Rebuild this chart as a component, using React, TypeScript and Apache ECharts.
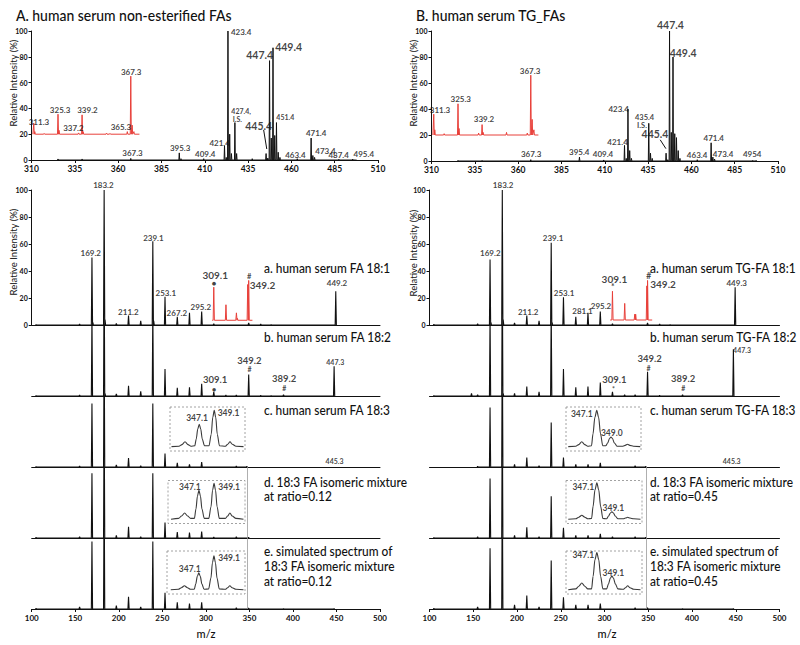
import React, { useEffect, useRef } from "react";
import * as echarts from "echarts";

// ---------------- DATA ----------------
// Top panels (m/z, relative intensity %)
const TOP_A_BLACK = [[325.3,0.8],[339.2,0.8],[367.3,1.2],[395.3,5.5],[396.3,1],[409.4,1],[421.4,11],[422.4,2],[423.4,100],[424.4,20],[425.4,5],[427.4,29],[428.4,5],[437.4,1],[445.4,5],[446.4,1.5],[447.4,77],[448.4,17],[449.4,87],[450.4,19],[451.4,29],[452.4,6],[453.4,2],[463.4,1],[471.4,17],[472.4,3.5],[473.4,2],[487.4,0.6],[495.4,0.7],[497.4,0.4]];
const TOP_A_RED = [[311.3,28.5],[311.9,22],[317.3,20.6],[325.3,35.5],[325.9,23],[337.2,21],[339.2,35],[339.8,22],[353.3,20.8],[355.3,20.6],[365.3,22],[367.3,65],[368.1,27],[369.1,22]];
const TOP_B_BLACK = [[325.3,0.5],[339.2,0.5],[367.3,1],[395.4,3],[409.4,0.8],[421.4,12],[422.4,2],[423.4,40],[424.4,8],[425.4,2],[435.4,29],[436.4,6],[437.4,2],[445.4,6],[446.4,1],[447.4,100],[448.4,22],[449.4,80],[450.4,21],[451.4,18],[452.4,8],[453.4,2],[463.4,1],[471.4,14],[472.4,3],[473.4,1.5],[495.4,0.5],[497.4,0.5]];
const TOP_B_RED = [[311.3,36],[311.9,24],[317.3,21],[325.3,44],[325.9,25],[337.2,21.5],[339.2,28],[339.8,22],[353.3,22],[365.3,21.5],[367.3,66],[368.1,32],[369.1,24]];
const RED_BASE_TOP = 20;
const TOP_A_RED_RANGE = [310.8, 372.3];
const TOP_B_RED_RANGE = [310.8, 371.7];

// Bottom panels (MS/MS spectra)
const L_A = [[105,0.3],[155,0.8],[169.2,50],[170.2,2],[183.2,100],[184.2,4],[197.2,1.2],[211.2,7],[225.2,3],[239.1,62],[240.1,3],[253.1,21],[267.2,6],[281.2,9],[295.2,10],[309.1,1],[349.2,1.5],[363,0.8],[375,0.3],[449.2,25]];
const L_A_RED = [[309.1,28],[323.1,15],[335.1,9],[336.1,5],[348.1,30],[349.2,33]];
const L_B = [[105,0.3],[155,0.8],[169.2,60],[183.2,100],[184.2,2],[197.2,1.5],[211.2,7.6],[225.2,3.5],[239.1,65],[253.1,20],[267.2,6],[281.2,6.5],[295.2,9],[309.1,3],[323,0.6],[335,0.8],[349.2,16],[363,0.5],[375,0.3],[389.2,1],[447.3,22]];
const L_C = [[105,0.3],[155,0.8],[169.2,47],[183.2,100],[197.2,1.5],[211.2,6.6],[225.2,1],[239.1,47],[253.1,10],[267.2,3],[281.2,2],[295.2,3.7],[335,0.8],[347.1,0.4]];
const L_D = [[105,0.5],[155,1],[169.2,48],[183.2,100],[197.2,2],[211.2,8.4],[225.2,1],[239.1,48],[253.1,11.4],[267.2,4.4],[281.2,4],[295.2,4.8],[309.1,0.8],[335,1],[349.1,0.5]];
const L_E = [[105,0.5],[155,1.5],[169.2,50],[183.2,100],[197.2,2.5],[211.2,9],[225.2,1.5],[239.1,50],[253.1,12],[267.2,5],[281.2,4],[295.2,5],[335,1],[349.1,0.6],[389.2,0.3],[447.3,0.3]];
const R_A = [[105,0.5],[155,1],[169.2,48.6],[170.2,2],[183.2,100],[184.2,4],[197.2,1.5],[211.2,7],[225.2,3],[239.1,61],[240.1,2],[253.1,20.5],[267.2,6],[281.1,9],[295.2,10],[309.1,1],[349.2,1.5],[363,0.8],[375,0.3],[449.3,28]];
const R_A_RED = [[309.1,25],[323.1,16],[334.6,8],[335.6,8],[348.4,29],[349.2,33]];
const R_B = [[105,0.3],[148,2],[155,1],[169.2,60],[183.2,100],[184.2,2],[197.2,2],[211.2,7],[225.2,3],[239.1,65],[253.1,20],[267.2,6.5],[281.1,7],[295.2,10],[309.1,3],[323,1],[335,1],[349.2,18],[363,0.5],[389.2,1],[447.3,34.6]];
const R_C = [[155,0.5],[169.2,44],[183.2,100],[197.2,2],[211.2,7],[225.2,1],[239.1,33],[253.1,7],[267.2,2],[281.2,2],[295.2,3],[335,1],[347.1,0.5]];
const R_D = [[105,0.3],[155,1],[169.2,44],[183.2,100],[197.2,2],[211.2,8],[225.2,1],[239.1,31],[253.1,7.6],[267.2,2],[281.2,2],[295.2,3],[309.1,1],[335,1],[347.1,0.5]];
const R_E = [[105,0.5],[155,1.5],[169.2,45],[183.2,100],[197.2,3],[211.2,10],[225.2,1.5],[239.1,36],[253.1,8.6],[267.2,3],[281.2,3],[295.2,4],[335,1],[349.1,1],[389.2,0.3],[447.3,0.3]];
const BOT_RED_BASE_L = 3.5;
const BOT_RED_BASE_R = 3.7;
const L_A_RED_RANGE = [307.3, 353.5];
const R_A_RED_RANGE = [306.5, 354.5];
const ISOMER_LINE_MZ = 347.5;

// Inset zoom profiles (m/z, relative height), read point by point
const INSET_LC = [[343.4,1],[344.4,2],[344.8,6],[345.2,13],[345.6,6],[346.0,2],[346.5,3],[346.7,20],[346.9,45],[347.1,57],[347.3,45],[347.5,20],[347.8,3],[348.4,3],[348.7,32],[348.9,74],[349.1,92],[349.3,74],[349.5,32],[349.8,3],[350.6,2],[350.9,7],[351.2,13],[351.5,7],[352.0,2],[353,1]];
const INSET_LD = [[343.4,1],[344.4,3],[344.8,9],[345.2,17],[345.6,9],[346.0,3],[346.5,3],[346.7,27],[346.9,60],[347.1,75],[347.3,60],[347.5,27],[347.8,3],[348.4,3],[348.7,33],[348.9,75],[349.1,93],[349.3,75],[349.5,33],[349.8,3],[350.6,3],[350.9,9],[351.2,17],[351.5,9],[352.0,3],[353,1]];
const INSET_LE = [[343.4,1],[344.4,2],[344.8,6],[345.2,11],[345.6,6],[346.0,2],[346.5,2],[346.7,16],[346.9,35],[347.1,44],[347.3,35],[347.5,16],[347.8,2],[348.4,3],[348.7,31],[348.9,70],[349.1,88],[349.3,70],[349.5,31],[349.8,3],[350.6,2],[350.9,6],[351.2,11],[351.5,6],[352.0,2],[353,1]];
const INSET_RC = [[343.3,1],[344.3,2],[344.7,6],[345.1,13],[345.5,6],[345.9,2],[346.4,3],[346.6,33],[346.85,74],[347.1,92],[347.35,74],[347.6,33],[347.9,3],[348.3,3],[348.55,10],[348.8,21],[349.0,25],[349.2,21],[349.45,10],[349.8,2],[350.6,2],[350.9,4],[351.2,7],[351.5,4],[352.0,2],[352.9,1]];
const INSET_RD = [[343.3,1],[344.3,2],[344.7,6],[345.1,11],[345.5,6],[345.9,2],[346.4,3],[346.6,34],[346.85,76],[347.1,94],[347.35,76],[347.6,34],[347.9,3],[348.4,2],[348.65,9],[348.9,17],[349.1,20],[349.3,17],[349.55,9],[349.9,2],[350.6,2],[350.9,4],[351.2,6],[351.5,4],[352.0,2],[352.9,1]];
const INSET_RE = [[343.3,1],[344.3,3],[344.7,10],[345.1,18],[345.5,10],[345.9,3],[346.4,3],[346.6,35],[346.85,78],[347.1,96],[347.35,78],[347.6,35],[347.9,3],[348.4,3],[348.65,16],[348.9,31],[349.1,36],[349.3,31],[349.55,16],[349.9,3],[350.6,2],[350.9,6],[351.2,11],[351.5,6],[352.0,2],[352.9,1]];

// Peak annotation texts: [m/z anchor, intensity anchor, text]
const LAB_TA = [[314.3,29.7,"311.3"],[326.5,39,"325.3"],[334.2,24.5,"337.2"],[342.3,39,"339.2"],[361.6,25.8,"365.3"],[367.5,68.5,"367.3"],[368.3,5.2,"367.3"],[395.8,9,"395.3"],[410.3,4.4,"409.4"],[418.6,13.4,"421.4"],[431,99.5,"423.4"],[462.3,3.9,"463.4"],[474.3,21.2,"471.4"],[479.7,7.2,"473.4"],[487.3,3.9,"487.4"],[501.8,4.6,"495.4"]];
const LAB_TA_SMALL = [[456.5,33,"451.4"],[431,38,"427.4,"],[428.8,32,"I.S."]];
const LAB_TA_BIG = [[441.1,26.4,"445.4"],[441.7,81.4,"447.4"],[458.4,87.4,"449.4"]];
const LAB_TB = [[314.9,39.2,"311.3"],[326.9,47.5,"325.3"],[340.3,32,"339.2"],[366.9,69.5,"367.3"],[367.5,5.1,"367.3"],[395.3,7.2,"395.4"],[409,5.1,"409.4"],[417.4,14.9,"421.4"],[418,39.7,"423.4"],[463.3,4.6,"463.4"],[472.9,17.9,"471.4"],[478.3,5.1,"473.4"],[495.1,5.1,"4954"]];
const LAB_TB_SMALL = [[433,33.3,"435.4"],[431.5,27.0,"I.S."]];
const LAB_TB_BIG = [[439.0,20.8,"445.4"],[447.9,104.6,"447.4"],[455.2,82.8,"449.4"]];
const ARROW_TA = [[444.0,23.3],[445.8,8.5]];
const ARROW_TB = [[442.0,16.3],[445.3,9.5]];

const LAB_LA = [[182.3,103.7,"183.2"],[167.8,53.6,"169.2"],[239.8,64.7,"239.1"],[211,9.4,"211.2"],[254,24,"253.1"],[266.7,8.6,"267.2"],[294.2,13.6,"295.2"],[450.6,30.9,"449.2"]];
const LAB_LA_BIG = [[310.7,37,"309.1"],[365,29.6,"349.2"]];
const MARK_LA = [[309.5,30.4,"●"],[349.8,35.8,"#"]];
const LAB_LB_BIG = [[350.1,26.6,"349.2"],[310.7,12.3,"309.1"],[390,12.6,"389.2"]];
const LAB_LB_SMALL = [[448.6,24.9,"447.3"]];
const MARK_LB = [[350.1,19.8,"#"],[309.5,5.5,"●"],[390,5.6,"#"]];
const LAB_LC_SMALL = [[447.8,4.4,"445.3"]];

const LAB_RA = [[184.1,103.7,"183.2"],[169.5,53,"169.2"],[241.2,64.2,"239.1"],[212.8,9.9,"211.2"],[253.8,24,"253.1"],[274.9,10.6,"281.1"],[296,14,"295.2"],[451.1,31.3,"449.3"]];
const LAB_RA_BIG = [[311.3,34.3,"309.1"],[366.9,30.4,"349.2"]];
const MARK_RA = [[309.4,28.0,"*"],[350.4,36.3,"#"]];
const LAB_RB_BIG = [[351.5,28.0,"349.2"],[311.3,12.3,"309.1"],[389.9,12.6,"389.2"]];
const LAB_RB_SMALL = [[457.2,34,"447.3"]];
const MARK_RB = [[350.4,21.0,"#"],[310.2,5.5,"*"],[389.9,5.6,"#"]];
const LAB_RC_SMALL = [[445.4,4.4,"445.3"]];

const LAB_INSET_LC = [[346.8,72.5,"347.1"],[351.0,85,"349.1"]];
const LAB_INSET_LD = [[345.9,84,"347.1"],[351.1,84,"349.1"]];
const LAB_INSET_LE = [[345.9,53,"347.1"],[351.1,83,"349.1"]];
const LAB_INSET_RC = [[345.1,82,"347.1"],[349.1,34,"349.0"]];
const LAB_INSET_RD = [[345.3,84,"347.1"],[349.3,29,"349.1"]];
const LAB_INSET_RE = [[345.3,90,"347.1"],[349.3,43,"349.1"]];

const TITLES = ["A. human serum non-esterified FAs", "B. human serum TG_FAs"];
const LEFT_DESC = [["a. human serum FA 18:1"],["b. human serum FA 18:2"],["c. human serum FA 18:3"],["d. 18:3 FA isomeric mixture","at ratio=0.12"],["e. simulated spectrum of","18:3 FA isomeric mixture","at ratio=0.12"]];
const RIGHT_DESC = [["a. human serum TG-FA 18:1"],["b. human serum TG-FA 18:2"],["c. human serum TG-FA 18:3"],["d. 18:3 FA isomeric mixture","at ratio=0.45"],["e. simulated spectrum of","18:3 FA isomeric mixture","at ratio=0.45"]];
const Y_NAME = "Relative Intensity (%)";
const X_NAME = "m/z";

// ---------------- LAYOUT ----------------
const FONT = "Lato, 'Open Sans', sans-serif";
const BLACK = "#111";
const RED = "#e8403a";
const TOP_GRIDS = [
  { left: 31.5, top: 31, width: 346.5, height: 129 },
  { left: 431.5, top: 31, width: 346.5, height: 130 },
];
const BOT_LEFT_X = [31.7, 429.5];
const BOT_W = [348.3, 350];
const BOT_TOPS = [190, 325, 396, 467, 538];
const BOT_H = [135, 71, 71, 71, 71];
const SUB_MAX = 71 / 1.35;
const INSETS = [
  { left: 170, top: 407, width: 75, height: 44, min: 343.2, max: 353.2 },
  { left: 168, top: 480.5, width: 77, height: 43, min: 343.0, max: 353.2 },
  { left: 167, top: 551, width: 78, height: 43, min: 342.9, max: 353.2 },
  { left: 566, top: 407, width: 75, height: 44, min: 343.0, max: 353.0 },
  { left: 566, top: 480.5, width: 76, height: 43, min: 343.0, max: 353.1 },
  { left: 566, top: 551, width: 76, height: 43, min: 343.0, max: 353.1 },
];
const DESC_SCALE = 0.85;
const TITLE_SCALE = 0.9;

function sticks(peaks: number[][], w: number, base = 0, range?: number[]) {
  const sorted = [...peaks].sort((a, b) => a[0] - b[0]);
  const out: number[][] = [];
  if (range) out.push([range[0], base]);
  for (const [m, h] of sorted) {
    out.push([m - w, base], [m, h], [m + w, base]);
  }
  if (range) out.push([range[1], base]);
  return out;
}

function buildOption() {
  const grid: any[] = [];
  const xAxis: any[] = [];
  const yAxis: any[] = [];
  const series: any[] = [];

  const tickLabel = (size: number) => ({ fontSize: size, fontWeight: "bold", color: BLACK, fontFamily: FONT });

  TOP_GRIDS.forEach((g) => {
    grid.push({ ...g });
    xAxis.push({
      type: "value", gridIndex: grid.length - 1, min: 310, max: 510, interval: 25,
      axisLine: { lineStyle: { color: BLACK, width: 1 } },
      axisTick: { length: 3, lineStyle: { color: BLACK } },
      axisLabel: { ...tickLabel(8.5), margin: 4 },
      splitLine: { show: false },
    });
    yAxis.push({
      type: "value", gridIndex: grid.length - 1, min: 0, max: 100, interval: 20,
      axisLine: { show: true, lineStyle: { color: BLACK, width: 1 } },
      axisTick: { show: true, length: 3, lineStyle: { color: BLACK } },
      axisLabel: { ...tickLabel(7), margin: 4 },
      splitLine: { show: false },
    });
  });

  for (let side = 0; side < 2; side++) {
    for (let p = 0; p < 5; p++) {
      grid.push({ left: BOT_LEFT_X[side], top: BOT_TOPS[p], width: BOT_W[side], height: BOT_H[p] });
      const gi = grid.length - 1;
      const isLast = p === 4;
      xAxis.push({
        type: "value", gridIndex: gi, min: 100, max: 500, interval: 50,
        axisLine: { show: true, lineStyle: { color: BLACK, width: 1 } },
        axisTick: { show: isLast, length: 3, lineStyle: { color: BLACK } },
        axisLabel: isLast ? { ...tickLabel(8), margin: 5 } : { show: false },
        splitLine: { show: false },
      });
      yAxis.push(p === 0 ? {
        type: "value", gridIndex: gi, min: 0, max: 100, interval: 20,
        axisLine: { show: true, lineStyle: { color: BLACK, width: 1 } },
        axisTick: { show: true, length: 3, lineStyle: { color: BLACK } },
        axisLabel: { ...tickLabel(7), margin: 4 },
        splitLine: { show: false },
      } : { type: "value", gridIndex: gi, min: 0, max: SUB_MAX, show: false });
    }
  }

  INSETS.forEach((g) => {
    grid.push({ left: g.left, top: g.top, width: g.width, height: g.height });
    const gi = grid.length - 1;
    xAxis.push({ type: "value", gridIndex: gi, min: g.min, max: g.max, show: false });
    yAxis.push({ type: "value", gridIndex: gi, min: -10, max: 100, show: false });
  });

  const line = (gi: number, data: number[][], color = BLACK, width = 1, extra: any = {}) => ({
    type: "line", xAxisIndex: gi, yAxisIndex: gi, data, symbol: "none", showSymbol: false,
    lineStyle: { color, width }, silent: true, clip: true, z: 3, ...extra,
  });

  const labels = (gi: number, arr: any[], size: number, weight: any = "bold", color = BLACK) => ({
    type: "scatter", xAxisIndex: gi, yAxisIndex: gi, symbolSize: 1, clip: false, silent: true, z: 6,
    itemStyle: { color: "rgba(0,0,0,0)" },
    data: arr.map((d) => ({ value: [d[0], d[1]], name: d[2] })),
    label: { show: true, position: "inside", formatter: (p: any) => p.name, fontSize: size, fontWeight: weight, color, fontFamily: FONT },
  });

  const arrowLine = (pts: number[][]) => ({
    silent: true, symbol: ["none", "arrow"], symbolSize: [0, 6], label: { show: false },
    lineStyle: { color: BLACK, width: 1, type: "solid" },
    data: [[{ coord: pts[0] }, { coord: pts[1] }]],
  });

  series.push(line(0, sticks(TOP_A_BLACK, 0.25), BLACK, 1, { markLine: arrowLine(ARROW_TA) }));
  series.push(line(0, sticks(TOP_A_RED, 0.3, RED_BASE_TOP, TOP_A_RED_RANGE), RED, 1));
  series.push(line(1, sticks(TOP_B_BLACK, 0.25), BLACK, 1, { markLine: arrowLine(ARROW_TB) }));
  series.push(line(1, sticks(TOP_B_RED, 0.3, RED_BASE_TOP, TOP_B_RED_RANGE), RED, 1));

  const vLine = {
    silent: true, symbol: ["none", "none"], label: { show: false },
    lineStyle: { color: "#9a9a9a", width: 0.8, type: "solid" },
    data: [{ xAxis: ISOMER_LINE_MZ }],
  };
  const leftSpec = [L_A, L_B, L_C, L_D, L_E];
  const rightSpec = [R_A, R_B, R_C, R_D, R_E];
  leftSpec.forEach((d, i) => series.push(line(2 + i, sticks(d, 0.7), BLACK, 1.1, i >= 3 ? { markLine: vLine } : {})));
  rightSpec.forEach((d, i) => series.push(line(7 + i, sticks(d, 0.7), BLACK, 1.1, i >= 3 ? { markLine: vLine } : {})));
  series.push(line(2, sticks(L_A_RED, 0.7, BOT_RED_BASE_L, L_A_RED_RANGE), RED, 1, { z: 4 }));
  series.push(line(7, sticks(R_A_RED, 0.7, BOT_RED_BASE_R, R_A_RED_RANGE), RED, 1, { z: 4 }));

  [INSET_LC, INSET_LD, INSET_LE, INSET_RC, INSET_RD, INSET_RE].forEach((d, i) => {
    series.push(line(12 + i, d, "#3a3a3a", 1.1, { smooth: 0.3, smoothMonotone: "x" }));
  });

  series.push(labels(0, LAB_TA, 8));
  series.push(labels(0, LAB_TA_SMALL, 7));
  series.push(labels(0, LAB_TA_BIG, 10.5));
  series.push(labels(1, LAB_TB, 8));
  series.push(labels(1, LAB_TB_SMALL, 7.5));
  series.push(labels(1, LAB_TB_BIG, 10.5));

  series.push(labels(2, LAB_LA, 8));
  series.push(labels(2, LAB_LA_BIG, 10));
  series.push(labels(2, MARK_LA, 7.5));
  series.push(labels(3, LAB_LB_BIG, 9.5));
  series.push(labels(3, LAB_LB_SMALL, 7));
  series.push(labels(3, MARK_LB, 7));
  series.push(labels(4, LAB_LC_SMALL, 7));

  series.push(labels(7, LAB_RA, 8));
  series.push(labels(7, LAB_RA_BIG, 10));
  series.push(labels(7, MARK_RA, 8.5));
  series.push(labels(8, LAB_RB_BIG, 9.5));
  series.push(labels(8, LAB_RB_SMALL, 7));
  series.push(labels(8, MARK_RB, 7));
  series.push(labels(9, LAB_RC_SMALL, 7));

  [LAB_INSET_LC, LAB_INSET_LD, LAB_INSET_LE, LAB_INSET_RC, LAB_INSET_RD, LAB_INSET_RE].forEach((d, i) => {
    series.push(labels(12 + i, d, 8.5));
  });

  const graphic: any[] = [];
  INSETS.forEach((g) => {
    graphic.push({
      type: "rect", silent: true, z: 1,
      shape: { x: g.left, y: g.top, width: g.width, height: g.height },
      style: { fill: "#fff", stroke: "#8a8a8a", lineWidth: 0.8, lineDash: [2, 2] },
    });
  });
  const txt = (text: string, x: number, y: number, size: number, scale: number) => ({
    type: "text", x, y, scaleX: scale, silent: true, z: 10,
    style: { text, fill: BLACK, fontSize: size, fontFamily: FONT, fontWeight: 500, align: "left", verticalAlign: "middle" },
  });
  graphic.push(txt(TITLES[0], 16, 15, 15.5, TITLE_SCALE));
  graphic.push(txt(TITLES[1], 416, 15, 15.5, TITLE_SCALE));
  const descX = [264, 650];
  const descY = [[268], [337], [409.5], [481.5, 496], [551, 566, 581]];
  LEFT_DESC.forEach((lines, p) => lines.forEach((t, k) => graphic.push(txt(t, descX[0], descY[p][k], 14, DESC_SCALE))));
  RIGHT_DESC.forEach((lines, p) => lines.forEach((t, k) => graphic.push(txt(t, descX[1], descY[p][k], 14, DESC_SCALE))));
  const yNames = [[13, 83], [413, 83], [13, 252], [413, 253]];
  yNames.forEach(([x, y]) => graphic.push({
    type: "text", x, y, rotation: Math.PI / 2, silent: true, z: 10,
    style: { text: Y_NAME, fill: BLACK, fontSize: 9.5, fontFamily: FONT, align: "center", verticalAlign: "middle" },
  }));
  graphic.push({ type: "text", x: 206, y: 633, silent: true, style: { text: X_NAME, fill: BLACK, fontSize: 11, fontWeight: 500, fontFamily: FONT, align: "center", verticalAlign: "middle" } });
  graphic.push({ type: "text", x: 607, y: 633, silent: true, style: { text: X_NAME, fill: BLACK, fontSize: 11, fontWeight: 500, fontFamily: FONT, align: "center", verticalAlign: "middle" } });

  return {
    animation: false,
    backgroundColor: "#fff",
    textStyle: { fontFamily: FONT },
    grid, xAxis, yAxis, series, graphic,
  };
}

export default function App() {
  const ref = useRef<HTMLDivElement>(null);
  useEffect(() => {
    if (!ref.current) return;
    const chart = echarts.init(ref.current, undefined, { renderer: "svg" });
    chart.setOption(buildOption() as any);
    return () => chart.dispose();
  }, []);
  return <div ref={ref} style={{ position: "fixed", left: 0, top: 0, width: 800, height: 645, background: "#fff" }} />;
}
